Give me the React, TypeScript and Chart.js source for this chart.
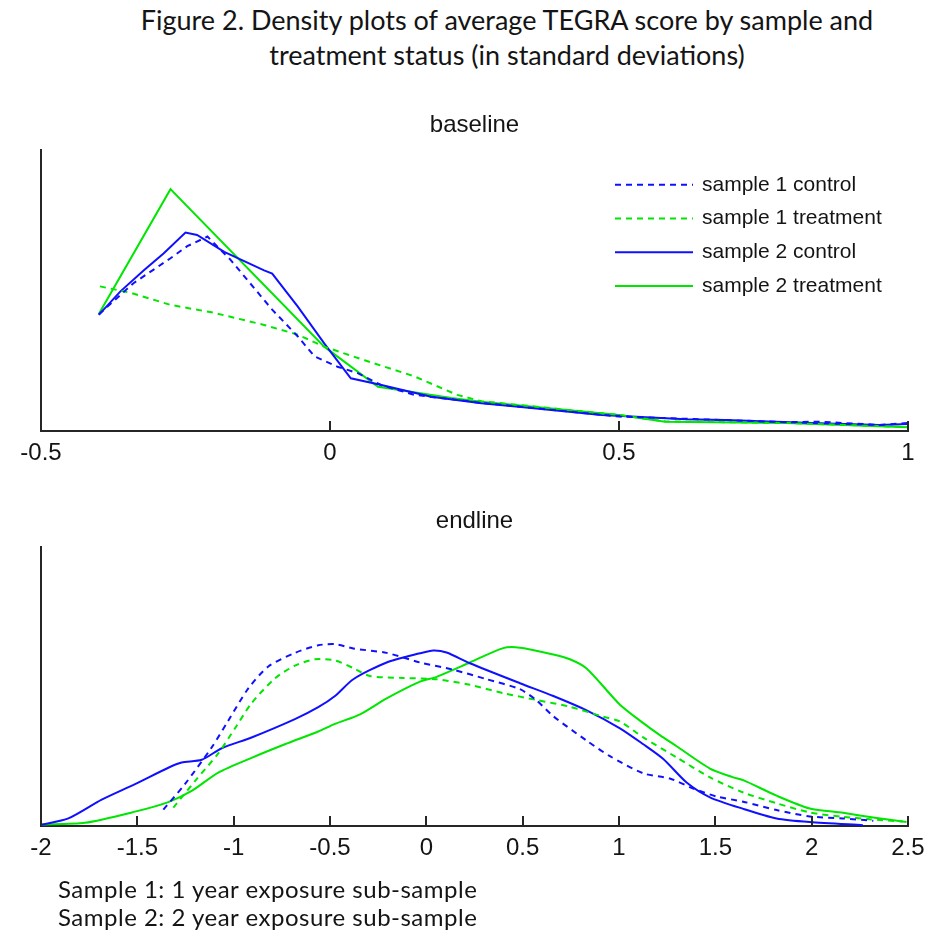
import React, { useEffect, useRef } from 'react';
import { Chart, registerables } from 'chart.js';

Chart.register(...registerables);

// ---------- Data: baseline ----------
const baseTicks = [-0.5, 0, 0.5, 1];

const baseS1ControlX = [-0.40, -0.34, -0.276, -0.247, -0.212, -0.172, -0.10, -0.056, -0.027, 0.013, 0.048, 0.089, 0.146, 0.262, 0.50, 0.79, 0.847, 0.951, 1.0];
const baseS1ControlY = [1.45, 1.84, 2.15, 2.30, 2.42, 2.13, 1.51, 1.18, 0.93, 0.80, 0.72, 0.57, 0.45, 0.35, 0.18, 0.11, 0.116, 0.075, 0.10];

const baseS1TreatX = [-0.398, -0.345, -0.276, -0.20, -0.114, -0.056, -0.01, 0.06, 0.146, 0.22, 0.262, 0.5, 0.58, 0.79, 1.0];
const baseS1TreatY = [1.80, 1.72, 1.57, 1.47, 1.32, 1.20, 1.05, 0.88, 0.68, 0.45, 0.37, 0.20, 0.12, 0.10, 0.05];

const baseS2ControlX = [-0.40, -0.363, -0.322, -0.288, -0.25, -0.23, -0.183, -0.114, -0.10, -0.056, -0.01, 0.036, 0.089, 0.175, 0.262, 0.326, 0.47, 0.615, 0.684, 0.847, 0.951, 1.0];
const baseS2ControlY = [1.445, 1.735, 2.0, 2.21, 2.47, 2.44, 2.23, 2.0, 1.96, 1.55, 1.09, 0.656, 0.573, 0.427, 0.345, 0.303, 0.20, 0.145, 0.137, 0.095, 0.075, 0.087];

const baseS2TreatX = [-0.40, -0.276, -0.01, 0.083, 0.21, 0.262, 0.5, 0.58, 0.79, 1.0];
const baseS2TreatY = [1.457, 3.01, 1.05, 0.55, 0.41, 0.365, 0.20, 0.116, 0.10, 0.046];

// ---------- Data: endline ----------
const endTicks = [-2, -1.5, -1, -0.5, 0, 0.5, 1, 1.5, 2, 2.5];

const endS1ControlX = [-1.365, -1.253, -1.114, -1.028, -0.924, -0.82, -0.682, -0.561, -0.474, -0.379, -0.206, -0.033, 0.138, 0.313, 0.486, 0.572, 0.657, 0.832, 0.953, 1.126, 1.264, 1.385, 1.506, 1.645, 1.818, 1.99, 2.162, 2.32];
const endS1ControlY = [0.041, 0.105, 0.197, 0.264, 0.345, 0.400, 0.434, 0.453, 0.456, 0.445, 0.434, 0.410, 0.392, 0.368, 0.343, 0.315, 0.276, 0.214, 0.175, 0.132, 0.119, 0.094, 0.074, 0.061, 0.040, 0.024, 0.019, 0.013];

const endS1TreatX = [-1.313, -1.2, -1.08, -0.993, -0.907, -0.786, -0.682, -0.578, -0.474, -0.379, -0.293, -0.12, 0.053, 0.226, 0.399, 0.572, 0.745, 0.918, 1.005, 1.126, 1.299, 1.472, 1.645, 1.818, 1.99, 2.163, 2.3, 2.473];
const endS1TreatY = [0.046, 0.113, 0.182, 0.245, 0.308, 0.370, 0.402, 0.418, 0.415, 0.396, 0.376, 0.371, 0.368, 0.354, 0.333, 0.316, 0.299, 0.274, 0.262, 0.222, 0.172, 0.122, 0.084, 0.057, 0.034, 0.023, 0.017, 0.011];

const endS2ControlX = [-2.0, -1.858, -1.685, -1.512, -1.339, -1.27, -1.166, -1.062, -0.907, -0.682, -0.561, -0.474, -0.379, -0.206, -0.033, 0.036, 0.105, 0.226, 0.486, 0.659, 0.832, 1.005, 1.126, 1.23, 1.351, 1.472, 1.645, 1.818, 1.99, 2.266];
const endS2ControlY = [0.003, 0.019, 0.066, 0.105, 0.146, 0.159, 0.166, 0.195, 0.222, 0.268, 0.298, 0.326, 0.368, 0.410, 0.433, 0.440, 0.435, 0.408, 0.358, 0.326, 0.290, 0.245, 0.205, 0.168, 0.109, 0.072, 0.043, 0.019, 0.010, 0.002];

const endS2TreatX = [-2.0, -1.772, -1.512, -1.339, -1.218, -1.08, -0.907, -0.734, -0.561, -0.474, -0.344, -0.206, -0.033, 0.053, 0.226, 0.399, 0.486, 0.659, 0.745, 0.832, 1.005, 1.126, 1.212, 1.299, 1.472, 1.593, 1.645, 1.818, 1.99, 2.163, 2.337, 2.492];
const endS2TreatY = [0.004, 0.008, 0.036, 0.060, 0.088, 0.134, 0.171, 0.205, 0.237, 0.256, 0.280, 0.320, 0.362, 0.374, 0.410, 0.446, 0.447, 0.430, 0.418, 0.395, 0.304, 0.258, 0.228, 0.200, 0.144, 0.122, 0.115, 0.076, 0.044, 0.033, 0.020, 0.010];

const seriesLabels = ['sample 1 control', 'sample 1 treatment', 'sample 2 control', 'sample 2 treatment'];

const BLUE = '#1010ff';
const GREEN = '#00e600';
const AXIS = '#262626';
const TEXT = '#141414';
const ARIAL = '"Liberation Sans", Arial, sans-serif';
const CAL = 'Lato, "Open Sans", sans-serif';

type Series = { label: string; x: number[]; y: number[]; color: string; dash: number[] };

const baselineSeries: Series[] = [
  { label: seriesLabels[0], x: baseS1ControlX, y: baseS1ControlY, color: BLUE, dash: [6, 5] },
  { label: seriesLabels[1], x: baseS1TreatX, y: baseS1TreatY, color: GREEN, dash: [6, 5] },
  { label: seriesLabels[2], x: baseS2ControlX, y: baseS2ControlY, color: BLUE, dash: [] },
  { label: seriesLabels[3], x: baseS2TreatX, y: baseS2TreatY, color: GREEN, dash: [] },
];

const endlineSeries: Series[] = [
  { label: seriesLabels[0], x: endS1ControlX, y: endS1ControlY, color: BLUE, dash: [6, 5] },
  { label: seriesLabels[1], x: endS1TreatX, y: endS1TreatY, color: GREEN, dash: [6, 5] },
  { label: seriesLabels[2], x: endS2ControlX, y: endS2ControlY, color: BLUE, dash: [] },
  { label: seriesLabels[3], x: endS2TreatX, y: endS2TreatY, color: GREEN, dash: [] },
];

function drawInwardTicks(chart: any, values: number[]) {
  const ctx: CanvasRenderingContext2D = chart.ctx;
  const area = chart.chartArea;
  const sx = chart.scales['x'];
  ctx.save();
  ctx.fillStyle = AXIS;
  for (const v of values) {
    const x = Math.round(sx.getPixelForValue(v));
    ctx.fillRect(x - 1, area.bottom - 10, 2, 10);
  }
  ctx.restore();
}

function drawInsideLegend(chart: any) {
  const ctx: CanvasRenderingContext2D = chart.ctx;
  const area = chart.chartArea;
  const x0 = area.right - 293;
  ctx.save();
  chart.data.datasets.forEach((ds: any, i: number) => {
    const y = area.top + 35 + i * 33.7;
    ctx.beginPath();
    ctx.strokeStyle = ds.borderColor;
    ctx.lineWidth = ds.borderWidth;
    ctx.setLineDash(ds.borderDash || []);
    ctx.moveTo(x0, y);
    ctx.lineTo(x0 + 78, y);
    ctx.stroke();
    ctx.setLineDash([]);
    ctx.fillStyle = TEXT;
    ctx.font = '21px ' + ARIAL;
    ctx.textBaseline = 'middle';
    ctx.textAlign = 'left';
    ctx.fillText(ds.label, x0 + 87, y);
  });
  ctx.restore();
}

type PanelProps = {
  top: number;
  title: string;
  series: Series[];
  tickValues: number[];
  yMax: number;
  tension: number;
  padTop: number;
  padBottom: number;
  legend: boolean;
};

function Panel(p: PanelProps) {
  const ref = useRef<HTMLCanvasElement>(null);
  useEffect(() => {
    if (!ref.current) return;
    const decorations = {
      id: 'decorations',
      afterDraw(chart: any) {
        drawInwardTicks(chart, p.tickValues);
        if (p.legend) drawInsideLegend(chart);
      },
    };
    const xMin = p.tickValues[0];
    const xMax = p.tickValues[p.tickValues.length - 1];
    const chart = new Chart(ref.current, {
      type: 'line',
      data: {
        datasets: p.series.map((s) => ({
          label: s.label,
          data: s.x.map((x, i) => ({ x, y: s.y[i] })),
          borderColor: s.color,
          borderDash: s.dash,
          borderWidth: 2,
          pointRadius: 0,
          tension: p.tension,
          fill: false,
        })),
      },
      options: {
        animation: false,
        responsive: false,
        devicePixelRatio: 1,
        layout: { padding: { left: 41, right: 19, top: 0, bottom: 0 } },
        plugins: {
          legend: { display: false },
          tooltip: { enabled: false },
          title: {
            display: true,
            text: p.title,
            color: TEXT,
            font: { family: ARIAL, size: 24, weight: 'normal', lineHeight: 1.2 },
            padding: { top: p.padTop, bottom: p.padBottom },
          },
        },
        scales: {
          x: {
            type: 'linear',
            min: xMin,
            max: xMax,
            afterBuildTicks: (s: any) => {
              s.ticks = p.tickValues.map((v) => ({ value: v }));
            },
            ticks: {
              color: TEXT,
              font: { family: ARIAL, size: 24 },
              padding: 8,
              maxRotation: 0,
              autoSkip: false,
              callback: (v: any) => String(Math.round(Number(v) * 10) / 10),
            },
            grid: { display: false, drawTicks: false, tickLength: 0 },
            border: { display: true, color: AXIS, width: 2 },
            afterFit: (s: any) => {
              s.height = 49;
              s.paddingLeft = 0;
              s.paddingRight = 0;
            },
          },
          y: {
            type: 'linear',
            min: 0,
            max: p.yMax,
            ticks: { display: false },
            grid: { display: false, drawTicks: false },
            border: { display: true, color: AXIS, width: 2 },
            afterFit: (s: any) => {
              s.width = 0;
            },
          },
        },
      } as any,
      plugins: [decorations],
    });
    return () => chart.destroy();
  }, []);
  return (
    <canvas
      ref={ref}
      width={927}
      height={385}
      style={{ position: 'absolute', left: 0, top: p.top, width: 927, height: 385 }}
    />
  );
}

export default function App() {
  return (
    <div style={{ position: 'absolute', left: 0, top: 0, width: 927, height: 937, background: '#fff', overflow: 'hidden' }}>
      <div
        style={{
          position: 'absolute',
          left: 87,
          width: 840,
          top: 2,
          textAlign: 'center',
          fontFamily: CAL,
          fontSize: 27,
          lineHeight: '35px',
          color: TEXT,
        }}
      >
        Figure 2. Density plots of average TEGRA score by sample and
        <br />
        treatment status (in standard deviations)
      </div>
      <Panel top={95} title="baseline" series={baselineSeries} tickValues={baseTicks} yMax={3.5} tension={0} padTop={16} padBottom={10} legend={true} />
      <Panel top={490} title="endline" series={endlineSeries} tickValues={endTicks} yMax={0.7} tension={0.25} padTop={17} padBottom={11} legend={false} />
      <div
        style={{
          position: 'absolute',
          left: 58,
          top: 875,
          fontFamily: CAL,
          fontSize: 24,
          letterSpacing: '0.5px',
          lineHeight: '28px',
          color: TEXT,
          whiteSpace: 'nowrap',
        }}
      >
        Sample 1: 1 year exposure sub-sample
        <br />
        Sample 2: 2 year exposure sub-sample
      </div>
    </div>
  );
}
